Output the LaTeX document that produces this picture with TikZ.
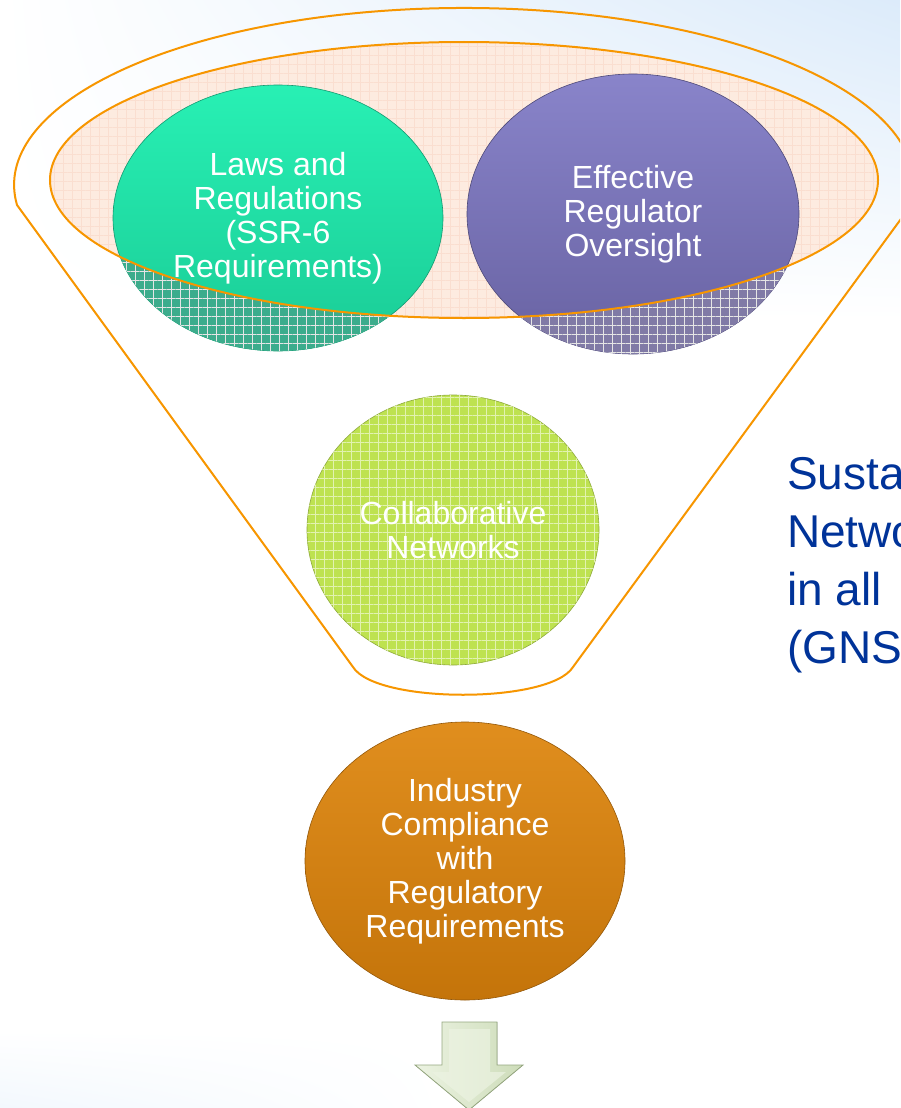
\documentclass[tikz,border=0pt]{standalone}
\usepackage{fontspec}
\setmainfont{Liberation Sans}
\usetikzlibrary{shapes.geometric,patterns.meta,shadings,positioning}

\definecolor{funnelorange}{RGB}{247,150,0}
\definecolor{peach}{RGB}{253,235,224}
\definecolor{peachgrid}{RGB}{250,222,208}
\definecolor{lawstop}{RGB}{40,240,180}
\definecolor{lawsbot}{RGB}{26,204,150}
\definecolor{lawspat}{RGB}{60,172,140}
\definecolor{overtop}{RGB}{137,132,202}
\definecolor{overbot}{RGB}{104,98,162}
\definecolor{overpat}{RGB}{128,122,166}
\definecolor{netfill}{RGB}{190,226,80}
\definecolor{indtop}{RGB}{224,142,30}
\definecolor{indbot}{RGB}{196,116,10}
\definecolor{arrowlight}{RGB}{236,243,226}
\definecolor{arrowfill}{RGB}{205,220,185}
\definecolor{arrowedge}{RGB}{150,168,128}
\definecolor{gnssblue}{RGB}{0,51,153}
\definecolor{skyblue}{RGB}{220,235,250}

\begin{document}
\begin{tikzpicture}[x=1pt, y=-1pt,
font=\fontsize{32}{34}\selectfont,
bubble/.style={ellipse, inner sep=0pt, align=center, text=white, draw=#1!75!black, line width=0.6pt},
rim/.style={draw=funnelorange, line width=2pt},
netgrid/.style={pattern={Hatch[angle=0,distance=9pt,line width=0.7pt]}, pattern color=#1},
netgrid/.default=white!80!gray,
]
\useasboundingbox (0,0) rectangle (900,1108);
\clip (0,0) rectangle (900,1108);
\fill[white] (0,0) rectangle (900,1108);
\shade[upper left=white, upper right=skyblue, lower left=white, lower right=white] (0,0) rectangle (900,320);
\shade[upper left=white, upper right=white, lower left=skyblue!35, lower right=white] (0,1030) rectangle (450,1108);

% funnel mouth
\fill[peach] (464,180) ellipse [x radius=414, y radius=138];
\fill[pattern={Hatch[angle=0,distance=9pt,line width=0.5pt]}, pattern color=peachgrid] (464,180) ellipse [x radius=414, y radius=138];

\node[bubble=lawsbot, top color=lawstop, bottom color=lawsbot, minimum width=330pt, minimum height=266pt] (laws) at (278,218) {Laws and\\Regulations\\(SSR-6\\Requirements)};
\node[bubble=overbot, top color=overtop, bottom color=overbot, minimum width=332pt, minimum height=280pt] (oversight) at (633,214) {Effective\\Regulator\\Oversight};

\begin{scope}
\clip (laws.center) ellipse [x radius=165, y radius=133];
\fill[lawspat, even odd rule] (0,0) rectangle (900,400) (464,180) ellipse [x radius=414, y radius=138];
\fill[netgrid, even odd rule] (0,0) rectangle (900,400) (464,180) ellipse [x radius=414, y radius=138];
\end{scope}
\begin{scope}
\clip (oversight.center) ellipse [x radius=166, y radius=140];
\fill[overpat, even odd rule] (0,0) rectangle (900,400) (464,180) ellipse [x radius=414, y radius=138];
\fill[netgrid, even odd rule] (0,0) rectangle (900,400) (464,180) ellipse [x radius=414, y radius=138];
\end{scope}

\draw[rim] (464,180) ellipse [x radius=414, y radius=138];
\draw[rim] (17,205) arc[start angle=173.5, end angle=366.5, x radius=450, y radius=177]
  -- (573,667) .. controls (550,704) and (376,704) .. (353,667) -- cycle;

\node[bubble=netfill, fill=netfill, postaction={netgrid=white!55!netfill}, minimum width=292pt, minimum height=270pt] (networks) at (453,530) {Collaborative\\Networks};

\node[bubble=indbot, top color=indtop, bottom color=indbot, minimum width=320pt, minimum height=278pt] (industry) at (465,861) {Industry\\Compliance\\with\\Regulatory\\Requirements};

% block arrow
\fill[left color=arrowlight, right color=arrowfill, draw=arrowedge, line width=0.8pt]
  (442,1022) -- (497,1022) -- (497,1065) -- (523,1065) -- (469,1110) -- (415,1065) -- (442,1065) -- cycle;
\fill[arrowlight, opacity=0.7] (449,1029) -- (490,1029) -- (490,1072) -- (506,1072) -- (469,1102) -- (432,1072) -- (449,1072) -- cycle;
%\draw[-latex] (industry) -- (469,1108);

\node[anchor=west, text=gnssblue, font=\fontsize{46}{58}\selectfont, align=left, inner sep=0pt] (gnssn) at (787,565) {Susta\\Netwo\\in all\\(GNS};

\end{tikzpicture}
\end{document}
